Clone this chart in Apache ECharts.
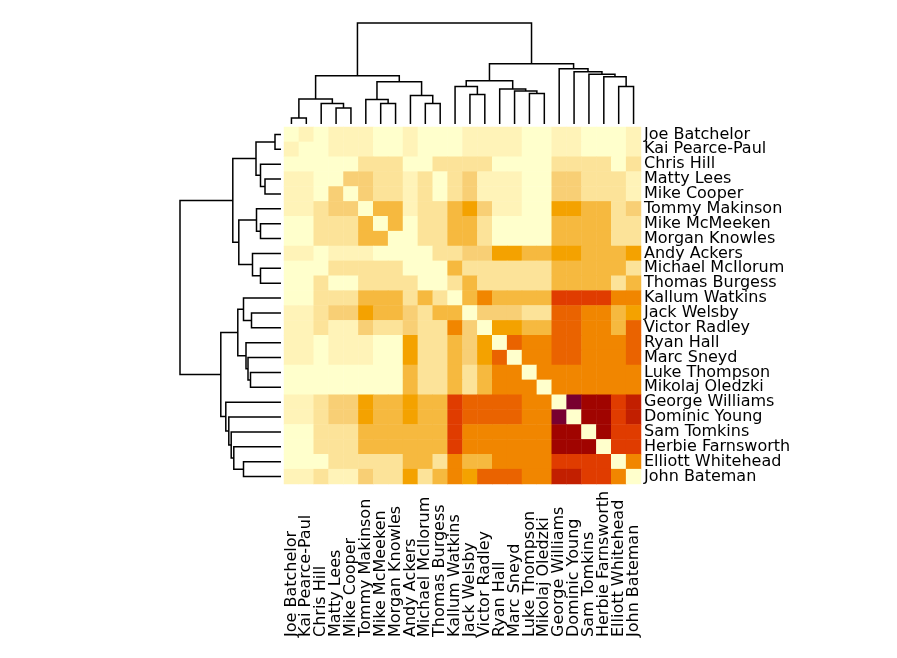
<!DOCTYPE html>
<html><head><meta charset="utf-8">
<script src="https://cdn.jsdelivr.net/npm/echarts@6/dist/echarts.min.js"></script>
<style>html,body{margin:0;padding:0;background:#fff}#c{width:897px;height:658px}</style>
</head><body><div id="c"></div>
<script>
// Players, in clustered order (rows and columns share it)
const players = ["Joe Batchelor","Kai Pearce-Paul","Chris Hill","Matty Lees","Mike Cooper","Tommy Makinson","Mike McMeeken","Morgan Knowles","Andy Ackers","Michael McIlorum","Thomas Burgess","Kallum Watkins","Jack Welsby","Victor Radley","Ryan Hall","Marc Sneyd","Luke Thompson","Mikolaj Oledzki","George Williams","Dominic Young","Sam Tomkins","Herbie Farnsworth","Elliott Whitehead","John Bateman"];

// Cell values (colour level, 0 = palest, 11 = darkest)
const values = [
 [0,1,0,1,1,1,0,0,1,0,0,0, 1,1,1,1,0,0,1,1,0,0,0,1],
 [1,0,0,1,1,1,0,0,1,0,0,0, 1,1,1,1,0,0,1,1,0,0,0,1],
 [0,0,0,0,0,2,2,2,0,0,2,2, 2,2,0,0,0,0,2,2,2,2,0,2],
 [1,1,0,0,3,3,2,2,1,2,0,2, 3,1,1,1,0,0,3,3,2,2,2,1],
 [1,1,0,3,0,3,2,2,1,2,0,2, 3,1,1,1,0,0,3,3,2,2,2,1],
 [1,1,2,3,3,0,4,4,1,2,2,4, 5,3,1,1,0,0,5,5,4,4,2,3],
 [0,0,2,2,2,4,0,4,0,2,2,4, 4,2,0,0,0,0,4,4,4,4,2,2],
 [0,0,2,2,2,4,4,0,0,2,2,4, 4,2,0,0,0,0,4,4,4,4,2,2],
 [1,1,0,1,1,1,0,0,0,0,2,2, 3,3,5,5,4,4,5,5,4,4,4,5],
 [0,0,0,2,2,2,2,2,0,0,0,4, 2,2,2,2,2,2,4,4,4,4,4,2],
 [0,0,2,0,0,2,2,2,2,0,0,2, 4,2,2,2,2,2,4,4,4,4,2,4],
 [0,0,2,2,2,4,4,4,2,4,2,0, 4,6,4,4,4,4,8,8,8,8,6,6],
 [1,1,2,3,3,5,4,4,3,2,4,4, 0,3,3,3,2,2,7,7,6,6,4,5],
 [1,1,2,1,1,3,2,2,3,2,2,6, 3,0,5,5,4,4,7,7,6,6,4,7],
 [1,1,0,1,1,1,0,0,5,2,2,4, 3,5,0,7,6,6,7,7,6,6,6,7],
 [1,1,0,1,1,1,0,0,5,2,2,4, 3,5,7,0,6,6,7,7,6,6,6,7],
 [0,0,0,0,0,0,0,0,4,2,2,4, 2,4,6,6,0,6,6,6,6,6,6,6],
 [0,0,0,0,0,0,0,0,4,2,2,4, 2,4,6,6,6,0,6,6,6,6,6,6],
 [1,1,2,3,3,5,4,4,5,4,4,8, 7,7,7,7,6,6,0,11,10,10,8,9],
 [1,1,2,3,3,5,4,4,5,4,4,8, 7,7,7,7,6,6,11,0,10,10,8,9],
 [0,0,2,2,2,4,4,4,4,4,4,8, 6,6,6,6,6,6,10,10,0,10,8,8],
 [0,0,2,2,2,4,4,4,4,4,4,8, 6,6,6,6,6,6,10,10,10,0,8,8],
 [0,0,0,2,2,2,2,2,4,4,2,6, 4,4,6,6,6,6,8,8,8,8,0,6],
 [1,1,2,1,1,3,2,2,5,2,4,6, 5,7,7,7,6,6,9,9,8,8,6,0]
];

// Colour for each level
const levelColors = ["#FFFFCC","#FFF3B8","#FCE399","#F8CF75","#F6B93F","#F4A200","#F18600","#EA6300","#E03C00","#C21F00","#A00400","#780030"];

// Hierarchical clustering: [child A, child B, merge height]; leaves 0..23, clusters 24+
const linkage = [
 [0,1,6],[3,4,16],[2,25,20.5],[24,26,25],
 [6,7,20.5],[5,28,24.5],[9,10,20.5],[8,30,28.5],[29,31,42.2],[27,32,48.2],
 [12,13,29.5],[11,34,37.5],[16,17,30.5],[15,36,33],[14,37,35],[35,38,43.2],
 [22,23,37.5],[21,40,47.2],[20,41,49.8],[19,42,52.2],[18,43,55.2],[39,44,60.2],
 [33,45,101]
];

const n = players.length;
const heatData = [];
values.forEach((row, r) => row.forEach((v, c) => heatData.push([c, r, v])));

const pos = [], hgt = [], links = [];
for (let i = 0; i < n; i++) { pos[i] = i + 0.5; hgt[i] = 0; }
linkage.forEach(([a, b, h], k) => {
  links.push([pos[a], pos[b], hgt[a], hgt[b], h]);
  pos[n + k] = (pos[a] + pos[b]) / 2; hgt[n + k] = h;
});

const font = 'DejaVu Sans';
const chart = echarts.init(document.getElementById('c'), null, {renderer: 'canvas'});
const lineStyle = {stroke: '#000', lineWidth: 1.5, fill: null};
chart.setOption({
  animation: false,
  backgroundColor: '#fff',
  grid: [
    {left: 284, top: 127, width: 357, height: 357},
    {left: 284, top: 19, width: 357, height: 105},
    {left: 176, top: 127, width: 105, height: 357}
  ],
  xAxis: [
    {type: 'category', gridIndex: 0, data: players, position: 'bottom',
     axisLine: {show: false}, axisTick: {show: false}, splitLine: {show: false},
     axisLabel: {interval: 0, rotate: 90, align: 'left', verticalAlign: 'middle', margin: 153,
                 fontSize: 16, fontFamily: font, color: '#000'}},
    {type: 'value', gridIndex: 1, min: 0, max: n, show: false},
    {type: 'value', gridIndex: 2, min: 0, max: 105, inverse: true, show: false}
  ],
  yAxis: [
    {type: 'category', gridIndex: 0, data: players, inverse: true, position: 'right',
     axisLine: {show: false}, axisTick: {show: false}, splitLine: {show: false},
     axisLabel: {interval: 0, margin: 3, fontSize: 16, fontFamily: font, color: '#000'}},
    {type: 'value', gridIndex: 1, min: 0, max: 105, show: false},
    {type: 'value', gridIndex: 2, min: 0, max: n, inverse: true, show: false}
  ],
  visualMap: {show: false, type: 'continuous', min: 0, max: levelColors.length - 1,
              seriesIndex: 0, inRange: {color: levelColors}},
  series: [
    {type: 'heatmap', xAxisIndex: 0, yAxisIndex: 0, data: heatData,
     itemStyle: {borderWidth: 0}, emphasis: {disabled: true}},
    {type: 'custom', xAxisIndex: 1, yAxisIndex: 1, data: links, clip: false,
     renderItem: (p, api) => ({type: 'polyline', shape: {points: [
       api.coord([api.value(0), api.value(2)]), api.coord([api.value(0), api.value(4)]),
       api.coord([api.value(1), api.value(4)]), api.coord([api.value(1), api.value(3)])]},
       style: lineStyle})},
    {type: 'custom', xAxisIndex: 2, yAxisIndex: 2, data: links, clip: false,
     renderItem: (p, api) => ({type: 'polyline', shape: {points: [
       api.coord([api.value(2), api.value(0)]), api.coord([api.value(4), api.value(0)]),
       api.coord([api.value(4), api.value(1)]), api.coord([api.value(3), api.value(1)])]},
       style: lineStyle})}
  ]
});
</script></body></html>
